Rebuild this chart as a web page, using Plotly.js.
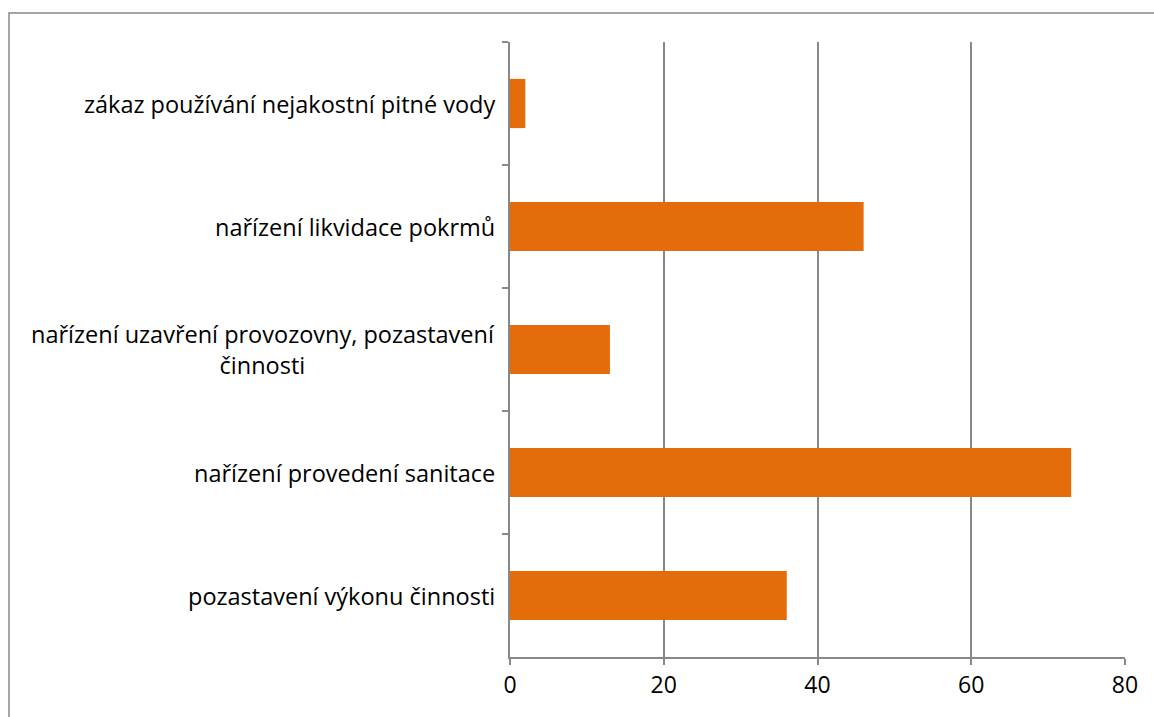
<!DOCTYPE html>
<html><head><meta charset="utf-8">
<script src="https://cdn.plot.ly/plotly-3.0.1.min.js"></script>
<style>html,body{margin:0;padding:0;background:#fff;overflow:hidden}#chart{width:1154px;height:717px}</style>
</head><body><div id="chart"></div>
<script>
var categories = [
  "zákaz používání nejakostní pitné vody",
  "nařízení likvidace pokrmů",
  "nařízení uzavření provozovny, pozastavení<br>činnosti",
  "nařízení provedení sanitace",
  "pozastavení výkonu činnosti"
];
var values = [2, 46, 13, 73, 36];
var xTicks = [0, 20, 40, 60, 80];

var font = "'Open Sans', 'Noto Sans', sans-serif";
var trace = {
  type: 'bar', orientation: 'h',
  x: values, y: categories,
  marker: {color: '#E46C0A'},
  hoverinfo: 'none'
};
var annotations = categories.map(function(c){
  return {xref:'paper', yref:'y', x:-0.021, y:c, text:c, showarrow:false,
          xanchor:'right', yanchor:'middle', align:'center',
          font:{family:font, size:23.5, color:'#000'}};
});
var layout = {
  width:1154, height:717,
  margin:{l:510, r:29, t:42, b:60, pad:0},
  paper_bgcolor:'#fff', plot_bgcolor:'#fff',
  showlegend:false, bargap:0.6,
  font:{family:font, size:23, color:'#000'},
  xaxis:{range:[0,80], tickvals:xTicks, showgrid:true, gridcolor:'#888888', gridwidth:2,
         showline:true, linecolor:'#888888', linewidth:2, ticks:'outside', ticklen:6,
         tickcolor:'#888888', tickwidth:2, zeroline:false, fixedrange:true,
         tickfont:{family:font, size:23, color:'#000'}},
  yaxis:{type:'category', autorange:'reversed', showticklabels:false, showgrid:false,
         showline:true, linecolor:'#888888', linewidth:2, ticks:'outside', ticklen:6,
         tickcolor:'#888888', tickwidth:2, tickson:'boundaries', zeroline:false, fixedrange:true},
  annotations: annotations,
  shapes:[{type:'rect', xref:'paper', yref:'paper', x0:-0.8146, x1:1.2, y0:-0.3, y1:1.0472,
           line:{color:'#888888', width:1.5}, fillcolor:'rgba(0,0,0,0)', layer:'below'}]
};
Plotly.newPlot('chart', [trace], layout, {displayModeBar:false, staticPlot:true});
</script></body></html>
